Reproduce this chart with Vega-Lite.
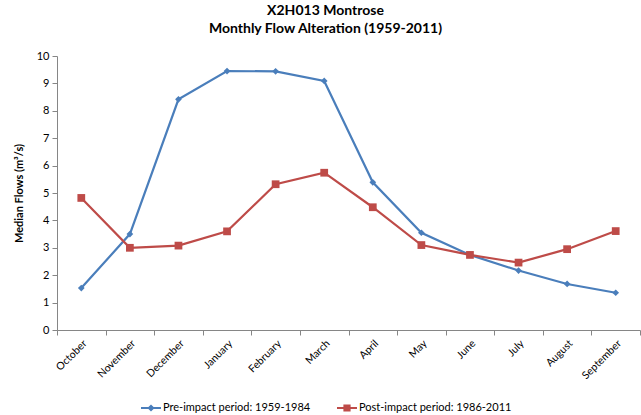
{
  "$schema": "https://vega.github.io/schema/vega-lite/v6.json",
  "width": 583,
  "height": 274,
  "autosize": {"type": "none"},
  "padding": {"left": 57, "top": 56, "right": 1, "bottom": 85},
  "background": "white",
  "title": {
    "text": ["X2H013 Montrose", "Monthly Flow Alteration (1959-2011)"],
    "font": "Lato",
    "fontSize": 14,
    "fontWeight": "bold",
    "color": "black",
    "anchor": "middle",
    "dx": -23,
    "offset": 14,
    "lineHeight": 18
  },
  "config": {
    "view": {"stroke": null},
    "font": "Lato",
    "axis": {"labelFont": "Lato", "titleFont": "Lato", "labelColor": "black", "titleColor": "black", "domainColor": "#868686", "tickColor": "#868686", "grid": false}
  },
  "data": {
    "values": [
      {"month": "October", "series": "Pre-impact period: 1959-1984", "flow": 1.53},
      {"month": "November", "series": "Pre-impact period: 1959-1984", "flow": 3.50},
      {"month": "December", "series": "Pre-impact period: 1959-1984", "flow": 8.42},
      {"month": "January", "series": "Pre-impact period: 1959-1984", "flow": 9.45},
      {"month": "February", "series": "Pre-impact period: 1959-1984", "flow": 9.44},
      {"month": "March", "series": "Pre-impact period: 1959-1984", "flow": 9.09},
      {"month": "April", "series": "Pre-impact period: 1959-1984", "flow": 5.39},
      {"month": "May", "series": "Pre-impact period: 1959-1984", "flow": 3.55},
      {"month": "June", "series": "Pre-impact period: 1959-1984", "flow": 2.74},
      {"month": "July", "series": "Pre-impact period: 1959-1984", "flow": 2.17},
      {"month": "August", "series": "Pre-impact period: 1959-1984", "flow": 1.68},
      {"month": "September", "series": "Pre-impact period: 1959-1984", "flow": 1.36},
      {"month": "October", "series": "Post-impact period: 1986-2011", "flow": 4.82},
      {"month": "November", "series": "Post-impact period: 1986-2011", "flow": 3.00},
      {"month": "December", "series": "Post-impact period: 1986-2011", "flow": 3.08},
      {"month": "January", "series": "Post-impact period: 1986-2011", "flow": 3.60},
      {"month": "February", "series": "Post-impact period: 1986-2011", "flow": 5.32},
      {"month": "March", "series": "Post-impact period: 1986-2011", "flow": 5.74},
      {"month": "April", "series": "Post-impact period: 1986-2011", "flow": 4.48},
      {"month": "May", "series": "Post-impact period: 1986-2011", "flow": 3.10},
      {"month": "June", "series": "Post-impact period: 1986-2011", "flow": 2.74},
      {"month": "July", "series": "Post-impact period: 1986-2011", "flow": 2.46},
      {"month": "August", "series": "Post-impact period: 1986-2011", "flow": 2.95},
      {"month": "September", "series": "Post-impact period: 1986-2011", "flow": 3.61}
    ]
  },
  "encoding": {
    "x": {
      "field": "month",
      "type": "nominal",
      "sort": null,
      "scale": {"type": "band", "paddingInner": 0, "paddingOuter": 0},
      "axis": {"title": null, "labelAngle": -45, "labelAlign": "right", "labelBaseline": "top", "labelFontSize": 10.5, "tickBand": "extent", "tickSize": 5, "labelPadding": 3, "domainWidth": 1, "labelOverlap": false}
    },
    "y": {
      "field": "flow",
      "type": "quantitative",
      "scale": {"domain": [0, 10]},
      "axis": {"title": "Median Flows (m³/s)", "titleFontSize": 11, "titleFontWeight": "bold", "titlePadding": 12, "labelFontSize": 11, "values": [0,1,2,3,4,5,6,7,8,9,10], "labelOverlap": false, "tickSize": 5, "labelPadding": 3}
    }
  },
  "layer": [
    {
      "mark": {"type": "line", "strokeWidth": 2.2},
      "encoding": {
        "color": {
          "field": "series",
          "type": "nominal",
          "sort": null,
          "scale": {"domain": ["Pre-impact period: 1959-1984", "Post-impact period: 1986-2011"], "range": ["#4A7EBB", "#BE4B48"]},
          "legend": {
            "title": null,
            "orient": "none",
            "legendX": 84,
            "legendY": 342,
            "direction": "horizontal",
            "columns": 2,
            "columnPadding": 26,
            "labelFontSize": 11,
            "labelFont": "Lato",
            "labelColor": "black",
            "symbolSize": 400,
            "symbolStrokeWidth": 0,
            "symbolType": "M-1,-0.1L1,-0.1L1,0.1L-1,0.1ZM0,-0.36L0.36,0L0,0.36L-0.36,0Z",
            "labelOffset": 2,
            "encode": {
              "symbols": {
                "update": {
                  "shape": {"signal": "datum.value === 'Pre-impact period: 1959-1984' ? 'M-1,-0.1L1,-0.1L1,0.1L-1,0.1ZM0,-0.36L0.36,0L0,0.36L-0.36,0Z' : 'M-1,-0.1L1,-0.1L1,0.1L-1,0.1ZM-0.36,-0.36L0.36,-0.36L0.36,0.36L-0.36,0.36Z'"},
                  "fill": {"signal": "datum.value === 'Pre-impact period: 1959-1984' ? '#4A7EBB' : '#BE4B48'"},
                  "fillOpacity": {"value": 1}
                }
              }
            }
          }
        }
      }
    },
    {
      "transform": [{"filter": "datum.series === 'Pre-impact period: 1959-1984'"}],
      "mark": {"type": "point", "filled": true, "opacity": 1, "shape": "diamond", "size": 45, "color": "#4A7EBB"}
    },
    {
      "transform": [{"filter": "datum.series === 'Post-impact period: 1986-2011'"}],
      "mark": {"type": "point", "filled": true, "opacity": 1, "shape": "square", "size": 60, "color": "#BE4B48"}
    }
  ]
}
